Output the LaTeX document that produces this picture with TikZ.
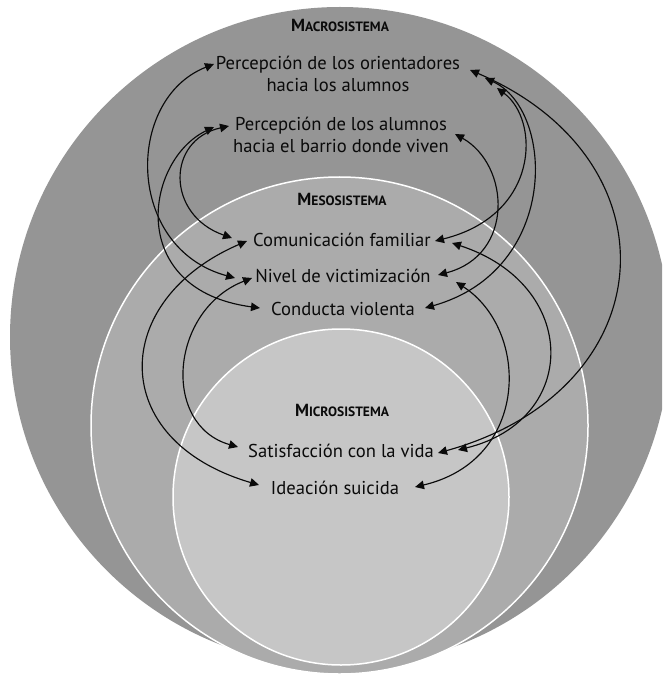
\documentclass[tikz,border=0pt]{standalone}
\usepackage{fontspec}
\setmainfont{PT Sans}
\usetikzlibrary{arrows.meta}
\definecolor{macrocol}{HTML}{959595}
\definecolor{mesocol}{HTML}{ABABAB}
\definecolor{microcol}{HTML}{C6C6C6}
\definecolor{inkcol}{HTML}{0A0A0A}
\newcommand\sctitle[2]{{\bfseries\fontsize{17.5}{17.5}\selectfont #1\fontsize{13.5}{13.5}\selectfont #2}}
\begin{document}
\begin{tikzpicture}[x=1pt,y=-1pt,
  lab/.style={font=\fontsize{18.6}{22}\selectfont, align=center, inner sep=0pt, text=inkcol},
  ttl/.style={inner sep=0pt, text=inkcol},
  link/.style={line width=1.15pt, draw=inkcol, {Triangle[length=9pt,width=8.5pt]}-{Triangle[length=9pt,width=8.5pt]}},
  ring/.style={draw=white, line width=1.5pt}
]
\useasboundingbox (0,0) rectangle (662,676);
\fill[white] (0,0) rectangle (662,676);
\begin{scope}
  \clip (0,0) rectangle (662,676);
  \fill[macrocol] (340,337) circle[radius=330];
  \path[ring, fill=mesocol] (339.5,425.5) circle[radius=248.5];
  \path[ring, fill=microcol] (341,497) circle[radius=168];
\end{scope}

% titles
\node[ttl] (tmac) at (340,25) {\sctitle{M}{ACROSISTEMA}};
\node[ttl] (tmes) at (342,199) {\sctitle{M}{ESOSISTEMA}};
\node[ttl] (tmic) at (342,410) {\sctitle{M}{ICROSISTEMA}};

% variables
\node[lab] (ori) at (338,74) {Percepción de los orientadores\\hacia los alumnos};
\node[lab] (alu) at (341,135) {Percepción de los alumnos\\hacia el barrio donde viven};
\node[lab] (com) at (342,240) {Comunicación familiar};
\node[lab] (niv) at (343,276) {Nivel de victimización};
\node[lab] (con) at (343,309) {Conducta violenta};
\node[lab] (sat) at (341,451) {Satisfacción con la vida};
\node[lab] (ide) at (335,488) {Ideación suicida};

% left side connectors
\draw[link] ([shift={(-124,-10)}]ori.center) .. controls (125,99) and (125,248) .. ([shift={(-108,2)}]niv.center);
\draw[link] ([shift={(-127,-8)}]alu.center) .. controls (145,160) and (125,290) .. ([shift={(-83,-1)}]con.center);
\draw[link] ([shift={(-112,-9)}]alu.center) .. controls (166,140) and (166,215) .. ([shift={(-110,-2)}]com.center);
\draw[link] ([shift={(-95,1)}]com.center) .. controls (110,300) and (106,440) .. ([shift={(-76,-3)}]ide.center);
\draw[link] ([shift={(-91,2)}]niv.center) .. controls (170,310) and (161,425) .. ([shift={(-103,-4)}]sat.center);

% right side connectors
\draw[link] ([shift={(159,14)}]ori.center) .. controls (540,120) and (540,215) .. ([shift={(93,1)}]com.center);
\draw[link] ([shift={(147,4)}]ori.center) .. controls (555,110) and (560,270) .. ([shift={(82,-1)}]con.center);
\draw[link] ([shift={(132,-4)}]ori.center) .. controls (680,160) and (665,390) .. ([shift={(97,2)}]sat.center);
\draw[link] ([shift={(114,-1)}]alu.center) .. controls (510,165) and (515,255) .. ([shift={(95,-1)}]niv.center);
\draw[link] ([shift={(110,3)}]com.center) .. controls (580,285) and (580,420) .. ([shift={(117,-1)}]sat.center);
\draw[link] ([shift={(113,6)}]niv.center) .. controls (530,330) and (530,460) .. ([shift={(80,-1)}]ide.center);
\end{tikzpicture}
\end{document}
